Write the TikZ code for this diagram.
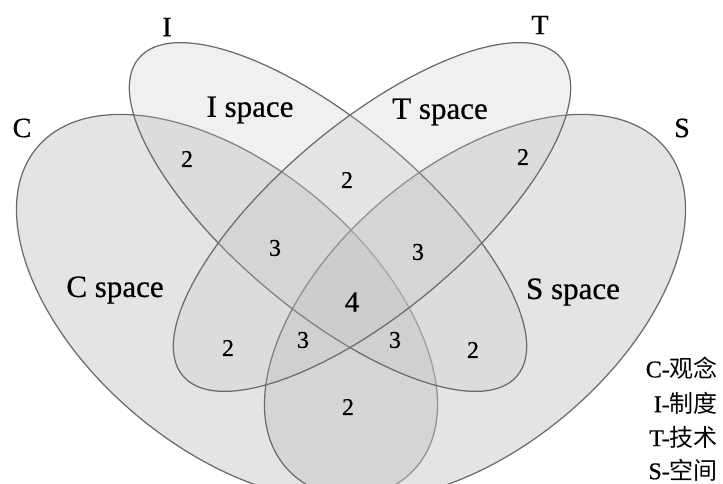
\documentclass[tikz,border=0pt]{standalone}
\usepackage{fontspec}
\setmainfont{Liberation Serif}[FakeBold=0.6]
\newfontfamily\cjk{Noto Sans CJK SC}
\begin{document}
\begin{tikzpicture}[x=1pt,y=1pt,
  venn/.style={draw=black!58,line width=1.25pt,fill=black!24,fill opacity=#1},
  setname/.style={font=\fontsize{28}{30}\selectfont},
  space/.style={font=\fontsize{31}{34}\selectfont},
  num/.style={font=\fontsize{24}{26}\selectfont},
  leg/.style={anchor=east,inner sep=0pt,font=\fontsize{24}{26}\selectfont}]
\useasboundingbox (0,0) rectangle (723,483);
\clip (0,0) rectangle (723,483);
% the four sets
\draw[venn=.44,rotate around={-40:(227,176)}] (227,176) ellipse [x radius=248pt,y radius=141pt];
\draw[venn=.44,rotate around={40:(475,176)}] (475,176) ellipse [x radius=248pt,y radius=141pt];
\draw[venn=.25,rotate around={-40:(328,266)}] (328,266) ellipse [x radius=247pt,y radius=94pt];
\draw[venn=.25,rotate around={40:(372,266)}] (372,266) ellipse [x radius=247pt,y radius=94pt];
% set names
\node[setname] (nc) at (22,355) {C};
\node[setname] (ni) at (167,456) {I};
\node[setname] (nt) at (540,458) {T};
\node[setname] (ns) at (682,355) {S};
\node[space] (spi) at (250,373) {I space};
\node[space] (spt) at (440,371) {T space};
\node[space] (spc) at (115,193) {C space};
\node[space] (sps) at (573,191) {S space};
% overlaps
\node[num] (ci) at (187,324) {2};
\node[num] (it) at (347,303) {2};
\node[num] (ts) at (523,326) {2};
\node[num] (cit) at (275,235) {3};
\node[num] (its) at (418,231) {3};
\node[num,font=\fontsize{29}{31}\selectfont] (cits) at (352,181) {4};
\node[num] (cts) at (303,143) {3};
\node[num] (cis) at (395,143) {3};
\node[num] (ct) at (228,135) {2};
\node[num] (is) at (473,133) {2};
\node[num] (cs) at (348,76) {2};
% legend
\node[leg] (l1) at (718,115) {C-{\cjk 观念}};
\node[leg] (l2) at (718,80) {I-{\cjk 制度}};
\node[leg] (l3) at (718,46) {T-{\cjk 技术}};
\node[leg] (l4) at (718,13) {S-{\cjk 空间}};
\end{tikzpicture}
\end{document}
